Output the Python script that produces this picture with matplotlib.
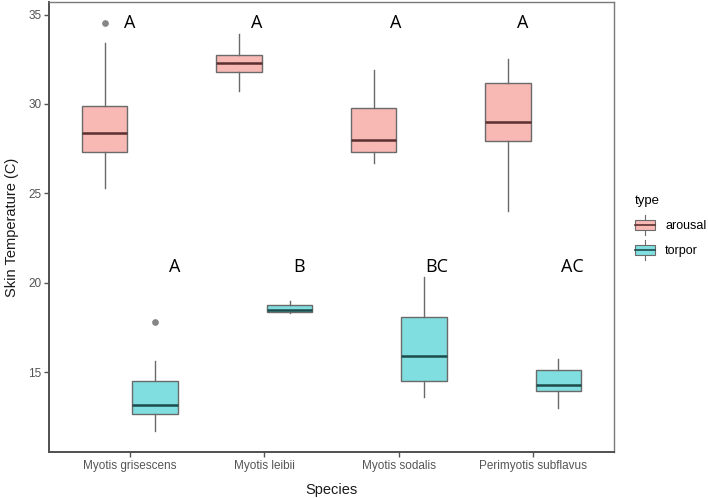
import matplotlib
matplotlib.use("Agg")
import matplotlib.pyplot as plt
from matplotlib.patches import Rectangle, Patch
from matplotlib.lines import Line2D
from matplotlib.legend_handler import HandlerBase

plt.rcParams["font.family"] = ["Liberation Sans", "DejaVu Sans"]

species = ["Myotis grisescens", "Myotis leibii", "Myotis sodalis", "Perimyotis subflavus"]

# box stats
arousal_whislo = [25.3, 30.7, 26.7, 24.0]
arousal_q1 = [27.3, 31.8, 27.3, 27.95]
arousal_med = [28.4, 32.3, 28.0, 29.0]
arousal_q3 = [29.9, 32.75, 29.8, 31.15]
arousal_whishi = [33.4, 33.9, 31.9, 32.5]
arousal_fliers = [[34.5], [], [], []]

torpor_whislo = [11.75, 18.3, 13.6, 13.0]
torpor_q1 = [12.65, 18.38, 14.5, 13.96]
torpor_med = [13.17, 18.5, 15.93, 14.27]
torpor_q3 = [14.5, 18.77, 18.1, 15.13]
torpor_whishi = [15.66, 19.0, 20.35, 15.74]
torpor_fliers = [[17.8], [], [], []]

arousal_letters = ["A", "A", "A", "A"]
torpor_letters = ["A", "B", "BC", "AC"]
arousal_letter_y = 34.5
torpor_letter_y = 20.87
arousal_letter_dx = [0.0, -0.06, -0.02, -0.08]
torpor_letter_dx = [0.33, 0.26, 0.28, 0.29]

fill = {"arousal": "#F8B8B4", "torpor": "#80DEE0"}
median_col = {"arousal": "#5a3030", "torpor": "#1d4b4c"}
edge_col = "#6a6a6a"


def stats(lo, q1, med, q3, hi, fl):
    return [dict(whislo=a, q1=b, med=c, q3=d, whishi=e, fliers=f)
            for a, b, c, d, e, f in zip(lo, q1, med, q3, hi, fl)]


fig = plt.figure(figsize=(7.08, 4.98), dpi=100)
ax = fig.add_axes([0.0696, 0.0924, 0.7974, 0.9036])

pos = list(range(1, len(species) + 1))
dodge = 0.1875
width = 0.3375

groups = [
    ("arousal", stats(arousal_whislo, arousal_q1, arousal_med, arousal_q3, arousal_whishi, arousal_fliers), -dodge),
    ("torpor", stats(torpor_whislo, torpor_q1, torpor_med, torpor_q3, torpor_whishi, torpor_fliers), dodge),
]
for name, st, off in groups:
    ax.bxp(st, positions=[p + off for p in pos], widths=width, patch_artist=True,
           showcaps=False, manage_ticks=False,
           boxprops=dict(facecolor=fill[name], edgecolor=edge_col, linewidth=1.0),
           whiskerprops=dict(color=edge_col, linewidth=1.0),
           medianprops=dict(color=median_col[name], linewidth=1.8),
           flierprops=dict(marker="o", markersize=3.8, markerfacecolor="#858585",
                           markeredgecolor="#858585"))

for p, t, dx in zip(pos, arousal_letters, arousal_letter_dx):
    ax.text(p + dx, arousal_letter_y, t, ha="center", va="center", fontsize=13,
            family="Open Sans", color="black")
for p, t, dx in zip(pos, torpor_letters, torpor_letter_dx):
    ax.text(p + dx, torpor_letter_y, t, ha="center", va="center", fontsize=13,
            family="Open Sans", color="black")

ax.set_xlim(0.4, 4.6)
ax.set_ylim(10.55, 35.7)
ax.set_xticks(pos)
ax.set_xticklabels(species)
ax.set_yticks([15, 20, 25, 30, 35])
ax.tick_params(axis="both", colors="#555555", labelsize=8.5, length=3.5, width=1.0, pad=2)
ax.set_xlabel("Species", fontsize=10.5, color="#1a1a1a", labelpad=8)
ax.set_ylabel("Skin Temperature (C)", fontsize=10.5, color="#1a1a1a", labelpad=7)
for s in ["left", "bottom"]:
    ax.spines[s].set_color("#505050")
    ax.spines[s].set_linewidth(1.4)
for s in ["top", "right"]:
    ax.spines[s].set_color("#7a7a7a")
    ax.spines[s].set_linewidth(1.0)


class BoxKey(HandlerBase):
    def create_artists(self, legend, orig, xd, yd, w, h, fontsize, trans):
        name = orig.get_label()
        x0, y0 = -xd, -yd
        r = Rectangle((x0, y0), w, h, facecolor=fill[name],
                      edgecolor=edge_col, linewidth=0.8, transform=trans)
        m = Line2D([x0, x0 + w], [y0 + h / 2] * 2, color=median_col[name], lw=1.2, transform=trans)
        t = Line2D([x0 + w / 2] * 2, [y0 + h, y0 + h * 1.45], color=edge_col, lw=0.8, transform=trans)
        b = Line2D([x0 + w / 2] * 2, [y0 - h * 0.45, y0], color=edge_col, lw=0.8, transform=trans)
        return [r, m, t, b]


handles = [Patch(label="arousal"), Patch(label="torpor")]
leg = fig.legend(handles=handles, labels=["arousal", "torpor"], title="type",
                 loc="upper left", bbox_to_anchor=(0.897, 0.608), frameon=False,
                 fontsize=9, title_fontsize=9.5, handlelength=1.6, handleheight=0.9,
                 handletextpad=0.8, labelspacing=1.0, borderpad=0, borderaxespad=0,
                 alignment="left", handler_map={Patch: BoxKey()})

fig.savefig("out.png", dpi=100)
